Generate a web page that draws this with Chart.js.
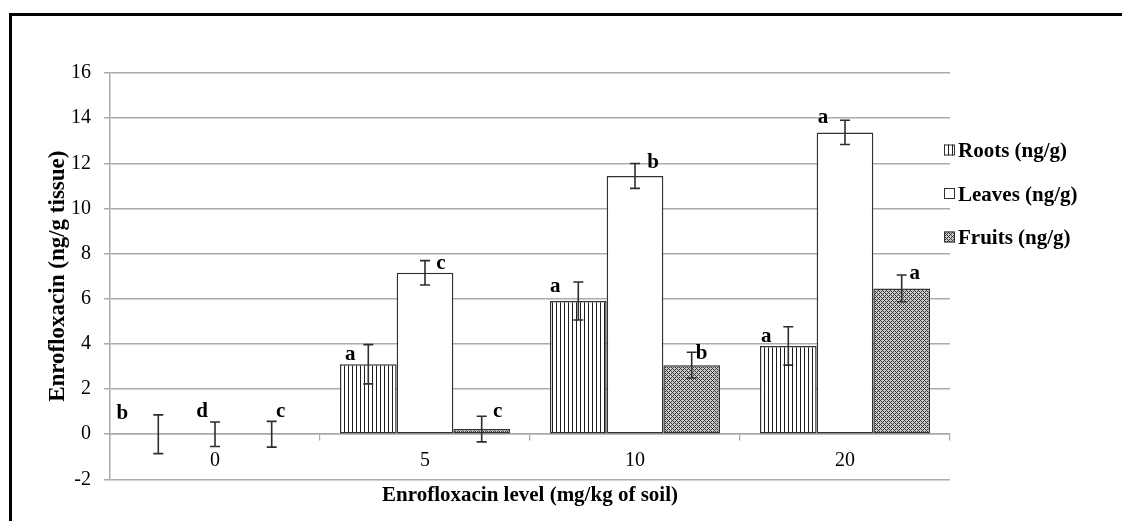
<!DOCTYPE html>
<html>
<head>
<meta charset="utf-8">
<script src="https://cdn.jsdelivr.net/npm/chart.js@4/dist/chart.umd.min.js"></script>
<style>
  html, body { margin: 0; padding: 0; background: #fff; overflow: hidden; }
  #wrap { position: relative; width: 1122px; height: 521px; overflow: hidden; }
  #frame { position: absolute; left: 9px; top: 13px; width: 2000px; height: 2000px;
           border: 3px solid #000; box-sizing: border-box; pointer-events: none; }
  #c { position: absolute; left: 0; top: 0; }
</style>
</head>
<body>
<div id="wrap">
  <canvas id="c" width="1122" height="521"></canvas>
  <div id="frame"></div>
</div>
<script>
// Enrofloxacin level in soil (mg/kg)
const levels = ['0', '5', '10', '20'];

// Tissue concentrations (ng/g) with standard errors
const rootsValues  = [0, 3.10, 5.90, 3.91];
const leavesValues = [0, 7.15, 11.44, 13.37];
const fruitsValues = [0, 0.23, 3.06, 6.46];

const rootsErrors  = [0.86, 0.87, 0.84, 0.85];
const leavesErrors = [0.54, 0.54, 0.55, 0.54];
const fruitsErrors = [0.57, 0.57, 0.57, 0.59];

// Significance letters
const rootsLetters  = ['b', 'a', 'a', 'a'];
const leavesLetters = ['d', 'c', 'b', 'a'];
const fruitsLetters = ['c', 'c', 'b', 'a'];

const seriesNames = ['Roots (ng/g)', 'Leaves (ng/g)', 'Fruits (ng/g)'];

// Axis range
const yMin = -2, yMax = 16, yStep = 2;

// Letter placement relative to the top of each error bar (px)
const rootsNudge  = [[-36, 4], [-18, 15], [-23, 10], [-22, 15]];
const leavesNudge = [[-13, -5], [16, 8], [18, 4], [-22, 3]];
const fruitsNudge = [[9, -4], [16, 1], [10, 7], [13, 4]];

const SERIF = '"Liberation Serif", "Times New Roman", serif';
const canvas = document.getElementById('c');
const ctx = canvas.getContext('2d');

function makePattern(size, paint) {
  const p = document.createElement('canvas');
  p.width = size; p.height = size;
  const g = p.getContext('2d');
  paint(g);
  return ctx.createPattern(p, 'repeat');
}

// vertical hatching
const stripeFill = makePattern(4, g => {
  g.fillStyle = '#fff'; g.fillRect(0, 0, 4, 4);
  g.fillStyle = '#1e1e1e'; g.fillRect(0, 0, 1, 4);
});

// fine diagonal cross-hatching
const meshFill = makePattern(4, g => {
  g.fillStyle = '#cccccc'; g.fillRect(0, 0, 4, 4);
  g.fillStyle = '#353535';
  for (let x = 0; x < 4; x++) {
    for (let y = 0; y < 4; y++) {
      if ((x + y) % 4 === 0 || (x - y + 4) % 4 === 0) g.fillRect(x, y, 1, 1);
    }
  }
});

const errorBarsAndLetters = {
  id: 'errorBarsAndLetters',
  afterDatasetsDraw(chart) {
    const c = chart.ctx, ys = chart.scales.y;
    chart.data.datasets.forEach((ds, i) => {
      const meta = chart.getDatasetMeta(i);
      meta.data.forEach((bar, j) => {
        const v = ds.data[j], e = ds.errors[j];
        const yt = ys.getPixelForValue(v + e);
        const yb = ys.getPixelForValue(v - e);
        const x = bar.x;
        c.save();
        c.strokeStyle = '#2e2e2e';
        c.lineWidth = 1.6;
        c.beginPath();
        c.moveTo(x, yt); c.lineTo(x, yb);
        c.moveTo(x - 5, yt); c.lineTo(x + 5, yt);
        c.moveTo(x - 5, yb); c.lineTo(x + 5, yb);
        c.stroke();
        const [dx, dy] = ds.letterNudge[j];
        c.fillStyle = '#000';
        c.font = 'bold 21px ' + SERIF;
        c.textAlign = 'center';
        c.textBaseline = 'alphabetic';
        c.fillText(ds.letters[j], x + dx, yt + dy);
        c.restore();
      });
    });
  }
};

const sideLegend = {
  id: 'sideLegend',
  afterDraw(chart) {
    const c = chart.ctx;
    const left = chart.chartArea.right - 6;
    const firstY = 150, gap = 43.5, box = 11;
    chart.data.datasets.forEach((ds, i) => {
      const yc = firstY + i * gap;
      c.save();
      c.fillStyle = ds.backgroundColor;
      c.fillRect(left, yc - box / 2, box, box);
      c.strokeStyle = '#333';
      c.lineWidth = 1;
      c.strokeRect(left + 0.5, yc - box / 2 + 0.5, box - 1, box - 1);
      c.fillStyle = '#000';
      c.font = 'bold 21px ' + SERIF;
      c.textAlign = 'left';
      c.textBaseline = 'alphabetic';
      c.fillText(ds.label, left + box + 3, yc + 7);
      c.restore();
    });
  }
};

function series(label, data, errors, letters, nudge, fill) {
  return {
    label, data, errors, letters, letterNudge: nudge,
    backgroundColor: fill,
    borderColor: '#333',
    borderWidth: 1.5,
    borderSkipped: false,
    categoryPercentage: 0.81,
    barPercentage: 1.0
  };
}

new Chart(ctx, {
  type: 'bar',
  data: {
    labels: levels,
    datasets: [
      series(seriesNames[0], rootsValues, rootsErrors, rootsLetters, rootsNudge, stripeFill),
      series(seriesNames[1], leavesValues, leavesErrors, leavesLetters, leavesNudge, '#ffffff'),
      series(seriesNames[2], fruitsValues, fruitsErrors, fruitsLetters, fruitsNudge, meshFill)
    ]
  },
  options: {
    responsive: false,
    animation: false,
    devicePixelRatio: 1,
    layout: { padding: { left: 20, right: 172, top: 73, bottom: 12.4 } },
    plugins: {
      legend: { display: false },
      tooltip: { enabled: false },
      title: {
        display: true,
        text: 'Enrofloxacin level (mg/kg of soil)',
        position: 'bottom',
        fullSize: false,
        color: '#000',
        font: { family: SERIF, size: 21, weight: 'bold' },
        padding: { top: 4, bottom: 0 }
      }
    },
    scales: {
      x: {
        position: { y: 0 },
        offset: true,
        grid: {
          offset: true,
          drawOnChartArea: false,
          drawTicks: true,
          tickLength: 6,
          color: '#a8a8a8',
          lineWidth: 1.2
        },
        border: { display: true, color: '#a8a8a8', width: 1.5 },
        ticks: {
          color: '#000',
          font: { family: SERIF, size: 20 },
          padding: 9,
          maxRotation: 0
        }
      },
      y: {
        min: yMin,
        max: yMax,
        afterFit(scale) { scale.width = 90; },
        ticks: {
          stepSize: yStep,
          color: '#000',
          font: { family: SERIF, size: 20 },
          padding: 13
        },
        grid: {
          color: '#ababab',
          lineWidth: 1.5,
          tickLength: 6
        },
        border: { display: true, color: '#ababab', width: 1.5 },
        title: {
          display: true,
          text: 'Enrofloxacin (ng/g tissue)',
          color: '#000',
          font: { family: SERIF, size: 23, weight: 'bold' },
          padding: { top: 24, bottom: 0 }
        }
      }
    }
  },
  plugins: [errorBarsAndLetters, sideLegend]
});
</script>
</body>
</html>
